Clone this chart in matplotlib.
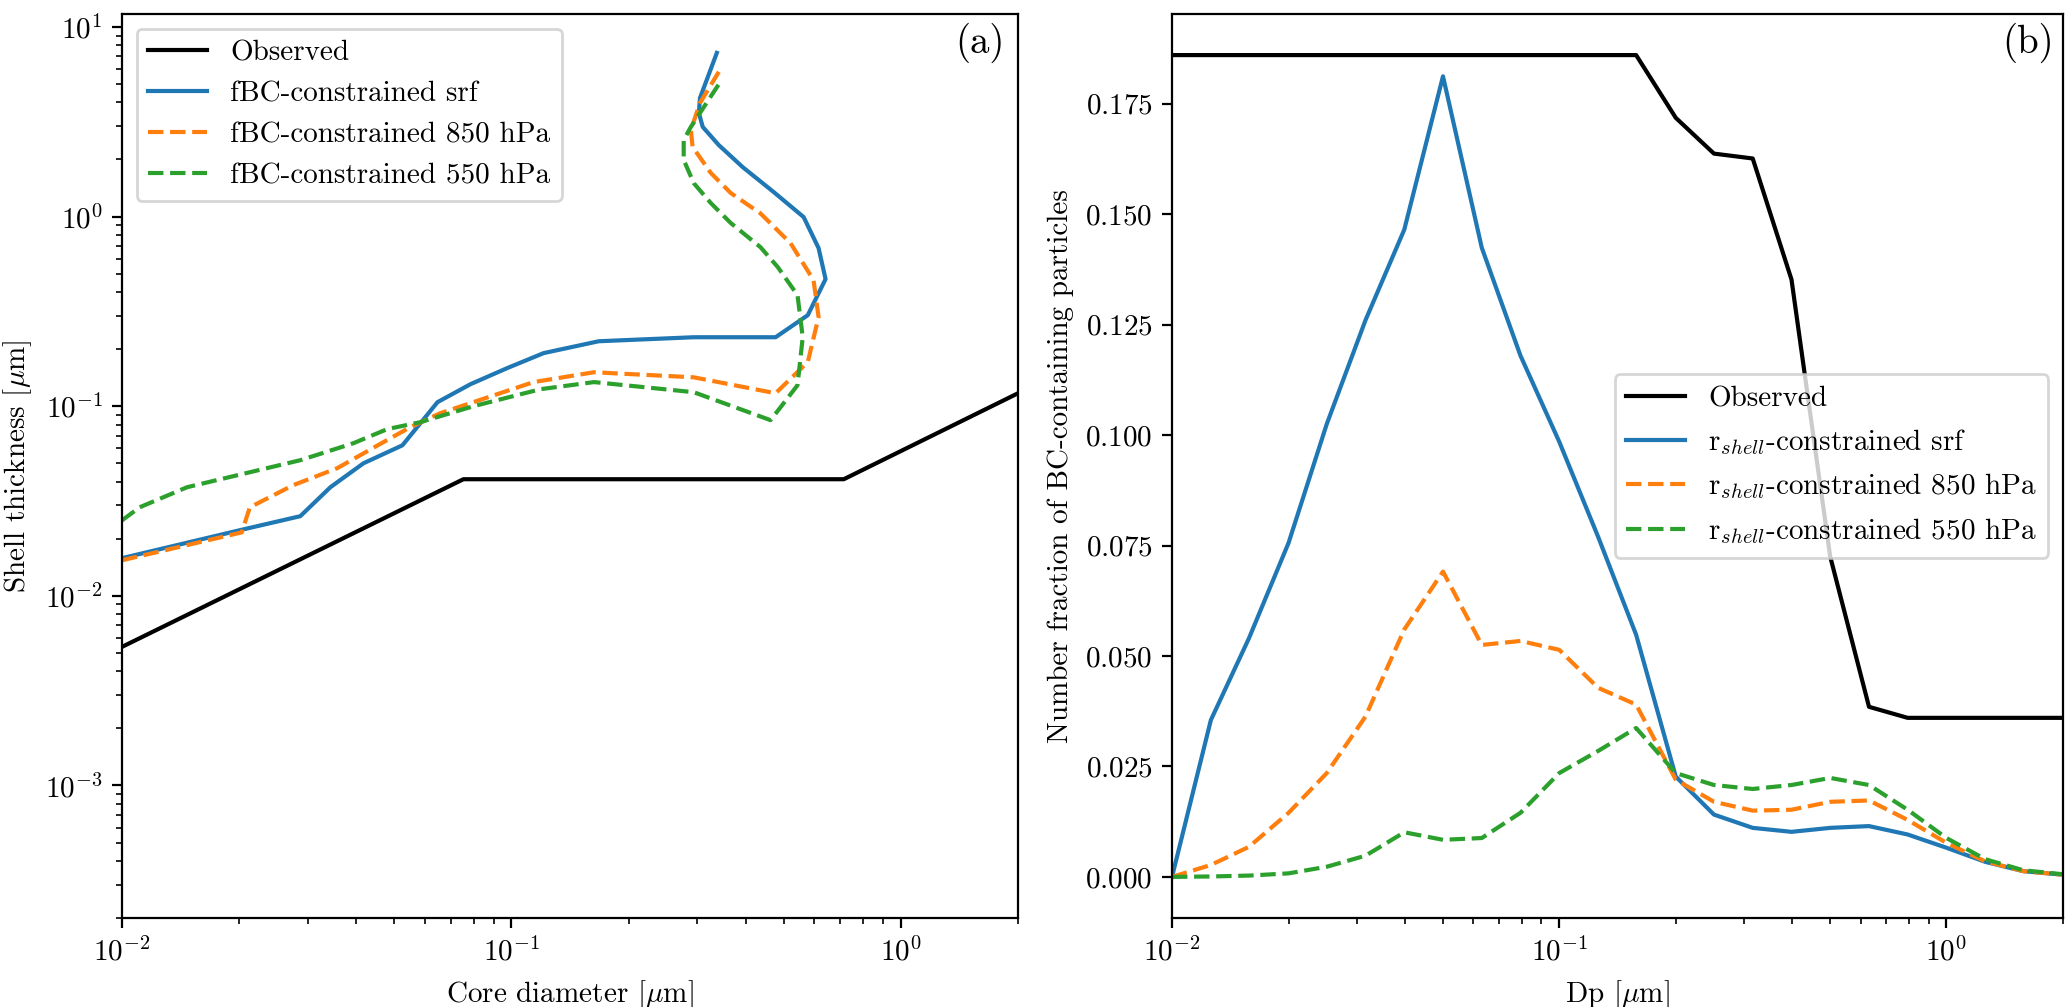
import numpy as np
import matplotlib
matplotlib.use('Agg')
import matplotlib.pyplot as plt

plt.rcParams['font.family'] = 'serif'
plt.rcParams['font.serif'] = ['cmr10']
plt.rcParams['mathtext.fontset'] = 'cm'
plt.rcParams['axes.unicode_minus'] = False
plt.rcParams['axes.formatter.use_mathtext'] = True
plt.rcParams['font.size'] = 10.5

# ---- panel (a): shell thickness vs core diameter ----
obs_core = [0.01, 0.0753, 0.714, 2.0]
obs_shell = [0.00538, 0.0412, 0.0412, 0.117]

srf_core = [0.01, 0.0201, 0.0287, 0.0343, 0.0417, 0.0525, 0.0646, 0.0785, 0.0977, 0.121,
            0.1675, 0.294, 0.477, 0.577, 0.641, 0.615, 0.563, 0.472, 0.393, 0.341,
            0.310, 0.303, 0.305, 0.337]
srf_shell = [0.0158, 0.0222, 0.0263, 0.0374, 0.050, 0.0622, 0.105, 0.1306, 0.159, 0.1905,
             0.220, 0.231, 0.231, 0.302, 0.468, 0.682, 0.994, 1.345, 1.82, 2.38,
             2.97, 3.52, 4.22, 7.3]

p850_core = [0.01, 0.0203, 0.0213, 0.0275, 0.0357, 0.0469, 0.055, 0.0657, 0.114, 0.163,
             0.294, 0.477, 0.577, 0.615, 0.597, 0.521, 0.436, 0.366, 0.325, 0.292,
             0.289, 0.305, 0.341]
p850_shell = [0.0154, 0.0216, 0.0293, 0.0383, 0.0471, 0.0646, 0.0775, 0.0919, 0.134, 0.151,
              0.142, 0.117, 0.171, 0.295, 0.462, 0.724, 1.04, 1.33, 1.70, 2.33,
              2.86, 3.97, 5.80]

p550_core = [0.01, 0.0111, 0.0147, 0.0287, 0.0393, 0.048, 0.0583, 0.0799, 0.119, 0.163,
             0.294, 0.463, 0.543, 0.560, 0.543, 0.483, 0.436, 0.366, 0.325, 0.294,
             0.277, 0.277, 0.289, 0.344]
p550_shell = [0.025, 0.0293, 0.0374, 0.0519, 0.0638, 0.0757, 0.0823, 0.1, 0.123, 0.134,
              0.1185, 0.0844, 0.129, 0.231, 0.385, 0.542, 0.690, 0.924, 1.18, 1.50,
              1.99, 2.53, 2.97, 5.13]

# ---- panel (b): number fraction vs Dp ----
dp = [0.01, 0.0126, 0.0158, 0.02, 0.0251, 0.0316, 0.0398, 0.0501, 0.0631, 0.0794,
      0.1, 0.126, 0.158, 0.2, 0.251, 0.316, 0.398, 0.501, 0.631, 0.794,
      1.0, 1.26, 1.58, 2.0]
frac_obs = [0.186, 0.186, 0.186, 0.186, 0.186, 0.186, 0.186, 0.186, 0.186, 0.186,
            0.186, 0.186, 0.186, 0.1718, 0.1637, 0.1626, 0.1352, 0.0725, 0.0385, 0.036,
            0.036, 0.036, 0.036, 0.036]
frac_srf = [0.0, 0.0355, 0.054, 0.0756, 0.1025, 0.126, 0.1465, 0.1812, 0.1424, 0.118,
            0.0985, 0.077, 0.0548, 0.0227, 0.0141, 0.0111, 0.0102, 0.0111, 0.0115, 0.0096,
            0.0066, 0.0034, 0.0013, 0.0005]
frac_850 = [0.0, 0.0027, 0.0068, 0.0145, 0.0235, 0.0363, 0.056, 0.0691, 0.0525, 0.0534,
            0.0514, 0.0428, 0.039, 0.022, 0.017, 0.015, 0.0152, 0.017, 0.0173, 0.0129,
            0.0077, 0.0035, 0.0013, 0.0005]
frac_550 = [0.0, 0.0001, 0.0003, 0.0008, 0.0023, 0.0048, 0.0101, 0.0084, 0.0088, 0.0145,
            0.0235, 0.0285, 0.0337, 0.0235, 0.0208, 0.0199, 0.0208, 0.0224, 0.0208, 0.0152,
            0.0088, 0.0040, 0.0015, 0.0006]

fig = plt.figure(figsize=(10.335, 5.035), dpi=200)
W, H = 2067.0, 1007.0
ax1 = fig.add_axes([122 / W, 1 - 918 / H, (1018 - 122) / W, (918 - 14) / H])
ax2 = fig.add_axes([1172 / W, 1 - 918 / H, (2063 - 1172) / W, (918 - 14) / H])

ax1.plot(obs_core, obs_shell, color='black', label='Observed')
ax1.plot(srf_core, srf_shell, color='C0', label='fBC-constrained srf')
ax1.plot(p850_core, p850_shell, color='C1', ls='--', label='fBC-constrained 850 hPa')
ax1.plot(p550_core, p550_shell, color='C2', ls='--', label='fBC-constrained 550 hPa')
ax1.set_xscale('log')
ax1.set_yscale('log')
ax1.set_xlim(0.01, 2)
ax1.set_ylim(2e-4, 11.7)
ax1.set_xlabel(r'Core diameter [$\mu$m]')
ax1.set_ylabel(r'Shell thickness [$\mu$m]')
ax1.legend(loc='upper left')
ax1.text(0.985, 0.99, '(a)', transform=ax1.transAxes, ha='right', va='top', fontsize=14)

ax2.plot(dp, frac_obs, color='black', label='Observed')
ax2.plot(dp, frac_srf, color='C0', label=r'r$_{shell}$-constrained srf')
ax2.plot(dp, frac_850, color='C1', ls='--', label=r'r$_{shell}$-constrained 850 hPa')
ax2.plot(dp, frac_550, color='C2', ls='--', label=r'r$_{shell}$-constrained 550 hPa')
ax2.set_xscale('log')
ax2.set_xlim(0.01, 2)
ax2.set_xlabel(r'Dp [$\mu$m]')
ax2.set_ylabel('Number fraction of BC-containing particles')
ax2.legend(loc='center right')
ax2.text(0.99, 0.99, '(b)', transform=ax2.transAxes, ha='right', va='top', fontsize=14)

fig.savefig('out.png', dpi=200)
